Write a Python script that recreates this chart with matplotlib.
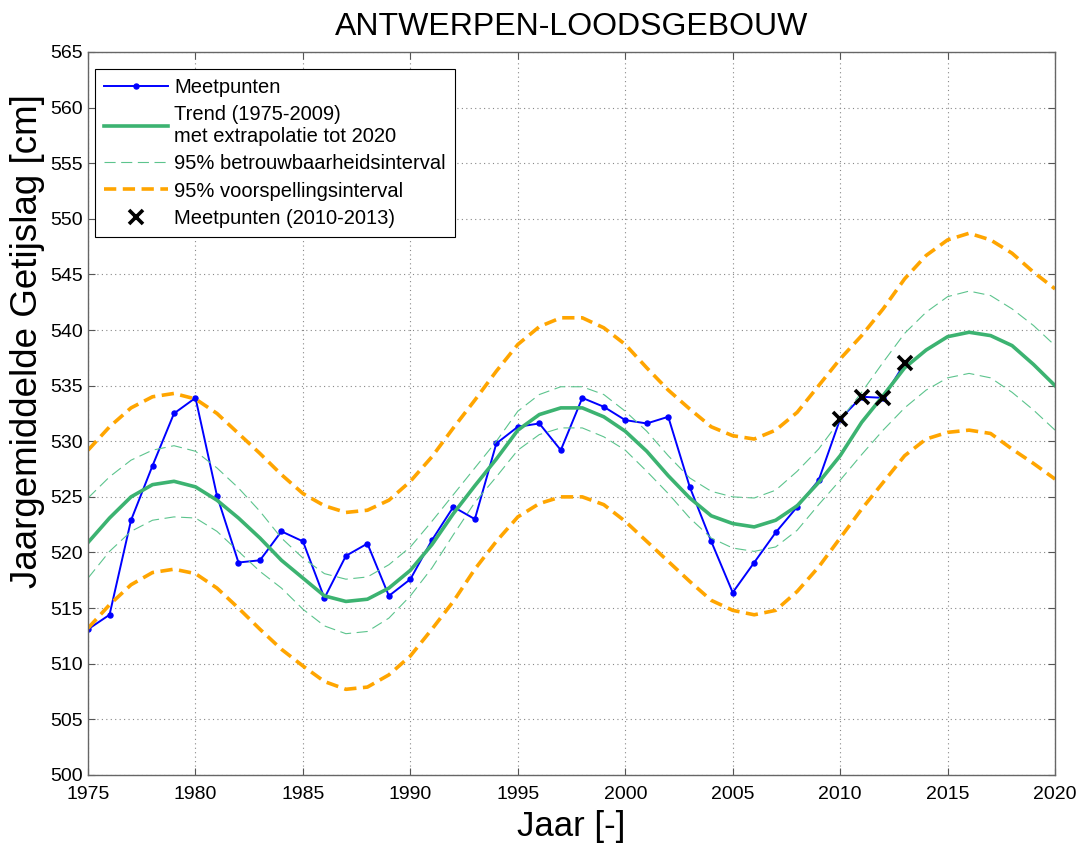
import matplotlib
matplotlib.use("Agg")
import matplotlib.pyplot as plt

plt.rcParams['font.family'] = ['Liberation Sans', 'DejaVu Sans']

# annual values
years = list(range(1975, 2021))
meas_years = list(range(1975, 2014))
meetpunten = [513.1, 514.4, 522.9, 527.8, 532.5, 533.9, 525.1, 519.1, 519.3, 521.9,
              521.0, 515.9, 519.7, 520.8, 516.1, 517.6, 521.1, 524.1, 523.0, 529.8,
              531.3, 531.6, 529.2, 533.9, 533.1, 531.9, 531.6, 532.2, 525.9, 521.0,
              516.4, 519.1, 521.8, 524.1, 526.5, 532.0, 534.0, 533.9, 537.0]
recent_years = [2010, 2011, 2012, 2013]
recent = [532.0, 534.0, 533.9, 537.0]

trend = [520.9, 523.1, 525.0, 526.1, 526.4, 525.9, 524.7, 523.1, 521.3, 519.3,
         517.7, 516.1, 515.6, 515.8, 516.8, 518.4, 520.7, 523.5, 526.0, 528.4,
         531.0, 532.4, 533.0, 533.0, 532.2, 530.9, 529.1, 526.9, 524.9, 523.3,
         522.6, 522.3, 522.9, 524.2, 526.3, 528.7, 531.7, 534.1, 536.6, 538.2,
         539.4, 539.8, 539.5, 538.6, 536.9, 535.0]
ci_upper = [524.9, 526.8, 528.3, 529.2, 529.6, 529.1, 527.6, 525.8, 523.7, 521.3,
            519.5, 518.1, 517.6, 517.8, 518.9, 520.5, 522.8, 525.2, 527.6, 530.0,
            532.7, 534.2, 534.9, 534.9, 534.2, 532.7, 530.9, 528.7, 526.7, 525.5,
            525.0, 524.9, 525.6, 527.3, 529.3, 531.9, 534.4, 537.1, 539.7, 541.6,
            543.0, 543.5, 543.1, 541.9, 540.4, 538.6]
ci_lower = [517.7, 520.1, 521.9, 522.9, 523.2, 523.1, 521.9, 520.1, 518.3, 516.8,
            514.9, 513.4, 512.7, 512.9, 514.1, 516.1, 518.6, 521.6, 524.5, 526.8,
            529.2, 530.6, 531.2, 531.2, 530.4, 529.2, 527.3, 525.3, 523.1, 521.3,
            520.4, 520.1, 520.5, 522.0, 524.3, 526.5, 528.8, 531.0, 533.0, 534.6,
            535.7, 536.1, 535.7, 534.4, 532.8, 531.0]
pi_upper = [529.2, 531.3, 533.0, 534.0, 534.3, 533.8, 532.5, 530.7, 528.9, 527.0,
            525.3, 524.2, 523.6, 523.8, 524.7, 526.4, 528.6, 531.2, 533.7, 536.3,
            538.7, 540.3, 541.1, 541.1, 540.2, 538.7, 536.6, 534.6, 532.9, 531.3,
            530.5, 530.2, 531.0, 532.6, 535.0, 537.4, 539.5, 541.9, 544.6, 546.7,
            548.1, 548.7, 548.1, 546.9, 545.2, 543.7]
pi_lower = [513.2, 515.3, 517.1, 518.2, 518.5, 518.1, 516.8, 515.0, 513.1, 511.3,
            509.8, 508.4, 507.7, 507.9, 509.0, 510.7, 513.1, 515.6, 518.5, 521.0,
            523.2, 524.4, 525.0, 525.0, 524.3, 522.8, 521.0, 519.2, 517.4, 515.7,
            514.8, 514.4, 514.8, 516.5, 518.7, 521.3, 523.9, 526.3, 528.7, 530.2,
            530.8, 531.0, 530.7, 529.3, 528.0, 526.6]

fig = plt.figure(figsize=(10.79, 8.43), dpi=100)
ax = fig.add_axes([0.0816, 0.0807, 0.8962, 0.8577])

ci_style = dict(color='#5cc48d', lw=0.8, linestyle=(0, (10, 5)))
pi_style = dict(color='#FFA500', lw=2.6, linestyle=(0, (3.4, 1.8)))

ax.plot(meas_years, meetpunten, color='#0000FF', lw=1.4, marker='o', ms=3.6,
        label='Meetpunten')
ax.plot(years, trend, color='#3CB371', lw=2.6,
        label='Trend (1975-2009)\nmet extrapolatie tot 2020')
ax.plot(years, ci_upper, label='95% betrouwbaarheidsinterval', **ci_style)
ax.plot(years, ci_lower, **ci_style)
ax.plot(years, pi_upper, label='95% voorspellingsinterval', **pi_style)
ax.plot(years, pi_lower, **pi_style)
ax.plot(recent_years, recent, linestyle='none', marker='x', color='black',
        ms=10.5, mew=2.6, label='Meetpunten (2010-2013)')

ax.set_xlim(1975, 2020)
ax.set_ylim(500, 565)
ax.set_xticks(range(1975, 2021, 5))
ax.set_yticks(range(500, 566, 5))
ax.tick_params(direction='in', top=True, right=True, length=5, width=0.8,
               labelsize=14, colors='#555555', labelcolor='black', pad=4)
ax.tick_params(axis='x', pad=8)
ax.grid(True, linestyle=(0, (1, 3)), color='#888888', lw=0.8)
for s in ax.spines.values():
    s.set_color('#666666')
    s.set_linewidth(1.0)

ax.set_title('ANTWERPEN-LOODSGEBOUW', fontsize=23, pad=12)
ax.set_xlabel('Jaar [-]', fontsize=25, labelpad=5)
ax.set_ylabel('Jaargemiddelde Getijslag [cm]', fontsize=26.5)
ax.yaxis.set_label_coords(-0.045, 0.6)

leg = ax.legend(loc='upper left', bbox_to_anchor=(0.007, 0.976), borderaxespad=0,
                fontsize=14.5, fancybox=False, edgecolor='black', framealpha=1,
                handlelength=3.2, labelspacing=0.4, borderpad=0.45, handletextpad=0.3)
leg.get_frame().set_linewidth(0.8)

fig.savefig('out.png', dpi=100)
